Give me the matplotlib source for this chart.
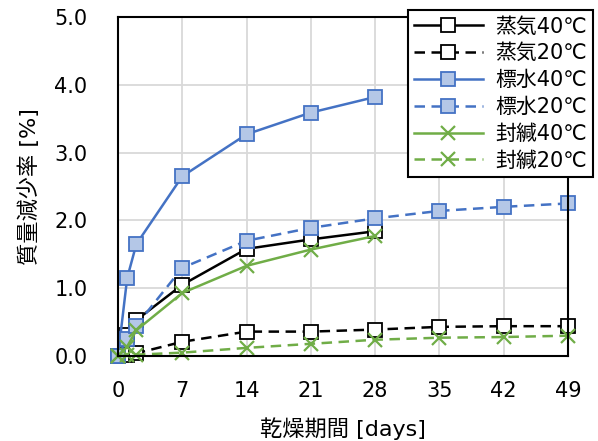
import matplotlib
matplotlib.use('Agg')
import matplotlib.pyplot as plt

plt.rcParams['font.family'] = ['DejaVu Sans', 'Noto Sans CJK JP']

# data
days_long = [0, 1, 2, 7, 14, 21, 28, 35, 42, 49]
days_short = [0, 1, 2, 7, 14, 21, 28]

steam_40 = [0, 0.31, 0.53, 1.05, 1.58, 1.72, 1.84]
steam_20 = [0, 0.02, 0.04, 0.21, 0.36, 0.36, 0.39, 0.43, 0.44, 0.44]
std_40 = [0, 1.15, 1.65, 2.65, 3.27, 3.59, 3.82]
std_20 = [0, 0.25, 0.45, 1.30, 1.70, 1.89, 2.03, 2.14, 2.20, 2.25]
seal_40 = [0, 0.14, 0.38, 0.93, 1.33, 1.57, 1.77]
seal_20 = [0, 0.01, 0.02, 0.05, 0.12, 0.18, 0.24, 0.27, 0.28, 0.30]

labels = ['蒸気40℃', '蒸気20℃', '標水40℃', '標水20℃', '封緘40℃', '封緘20℃']
xticks = [0, 7, 14, 21, 28, 35, 42, 49]
yticks = [0, 1, 2, 3, 4, 5]

BLUE = '#4472C4'
BLUE_FILL = '#B4C7E7'
GREEN = '#70AD47'
DASH = (4.2, 2.6)

fig = plt.figure(figsize=(5.98, 4.41), dpi=100)
ax = fig.add_axes([0.1973, 0.1927, 0.7525, 0.7688])

common = dict(lw=1.8, clip_on=False)
ax.plot(days_short, steam_40, color='black', marker='s', ms=9.5, mfc='white', mec='black', mew=1.3, label=labels[0], **common)
ax.plot(days_long, steam_20, color='black', ls='--', dashes=DASH, marker='s', ms=9.5, mfc='white', mec='black', mew=1.3, label=labels[1], **common)
ax.plot(days_short, std_40, color=BLUE, marker='s', ms=9.5, mfc=BLUE_FILL, mec=BLUE, mew=1.3, label=labels[2], **common)
ax.plot(days_long, std_20, color=BLUE, ls='--', dashes=DASH, marker='s', ms=9.5, mfc=BLUE_FILL, mec=BLUE, mew=1.3, label=labels[3], **common)
ax.plot(days_short, seal_40, color=GREEN, marker='x', ms=9.5, mew=1.6, label=labels[4], **common)
ax.plot(days_long, seal_20, color=GREEN, ls='--', dashes=DASH, marker='x', ms=9.5, mew=1.6, label=labels[5], **common)

ax.set_xlim(0, 49)
ax.set_ylim(0, 5)
ax.set_xticks(xticks)
ax.set_yticks(yticks)
ax.set_yticklabels(['%.1f' % v for v in yticks])
ax.tick_params(length=0, labelsize=15)
ax.tick_params(axis='y', pad=22)
ax.tick_params(axis='x', pad=18)
ax.grid(True, color='#D9D9D9', lw=1.3)
ax.set_axisbelow(True)
for s in ax.spines.values():
    s.set_color('black')
    s.set_linewidth(1.5)

ax.set_xlabel('乾燥期間 [days]', fontsize=16, labelpad=12)
ax.set_ylabel('質量減少率 [%]', fontsize=16, labelpad=10)

leg = fig.legend(loc='upper right', bbox_to_anchor=(0.992, 0.977), fontsize=15,
                 frameon=True, fancybox=False, edgecolor='black', framealpha=1,
                 handlelength=3.3, borderpad=0.3, labelspacing=0.33, handletextpad=0.6,
                 borderaxespad=0)
leg.get_frame().set_linewidth(1.5)

fig.savefig('out.png', dpi=100)
